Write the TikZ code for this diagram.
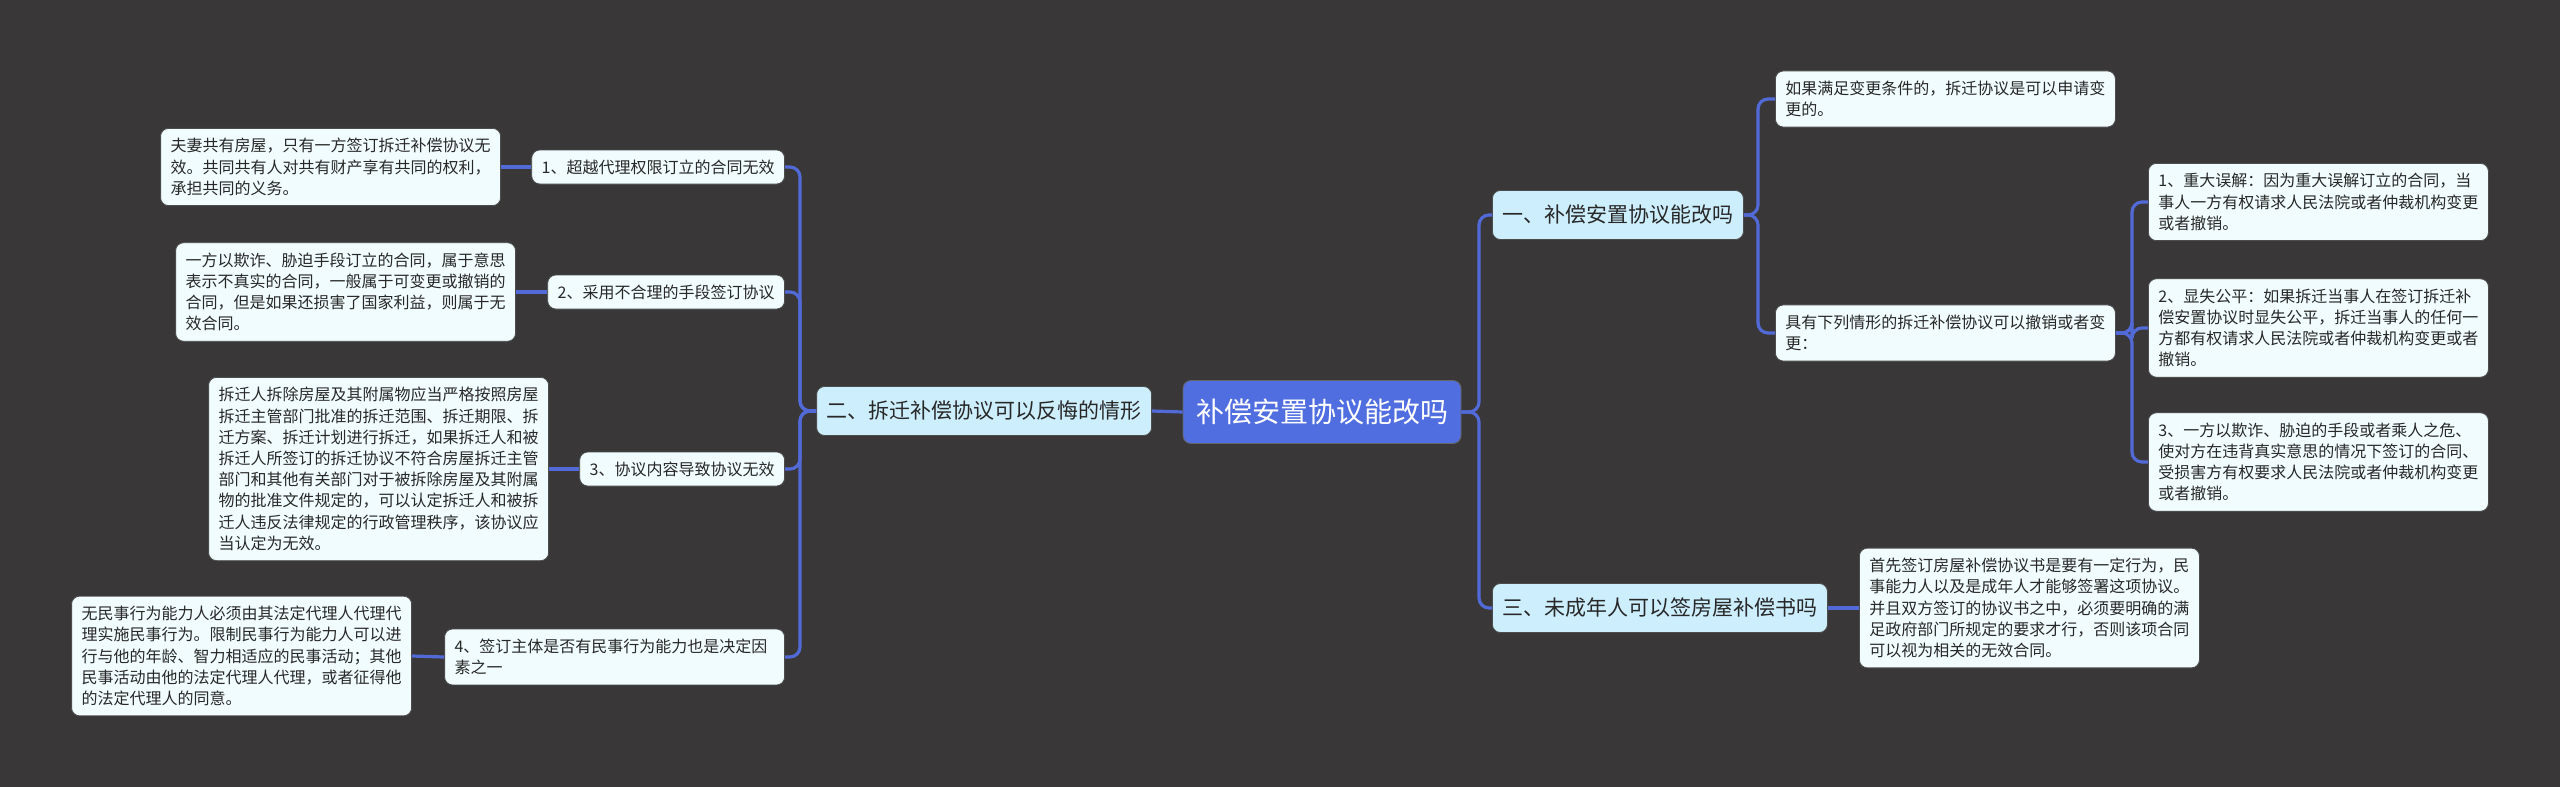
\documentclass[tikz,border=0pt]{standalone}
\usepackage{fontspec}
\setmainfont{Noto Sans CJK SC}
\usepackage{tikz}
\usetikzlibrary{calc,positioning}
\usepackage{xcolor}
\definecolor{bgdark}{RGB}{57,55,56}
\definecolor{rootblue}{RGB}{80,110,224}
\definecolor{linkblue}{RGB}{82,106,216}
\definecolor{topicfill}{RGB}{205,238,252}
\definecolor{leaffill}{RGB}{240,252,253}
\definecolor{inkgray}{RGB}{40,40,40}

\begin{document}
\begin{tikzpicture}[x=0.5pt,y=-0.5pt,
	rootbox/.style={fill=rootblue,draw=black!60,line width=0.4pt,rounded corners=4pt,text=white,
		font=\fontsize{14}{16}\selectfont,inner xsep=6.5pt,minimum height=31.5pt},
	topicbox/.style={fill=topicfill,draw=black!70,line width=0.4pt,rounded corners=4pt,text=inkgray,
		font=\fontsize{10.5}{12}\selectfont,inner xsep=5pt,minimum height=24.5pt},
	subbox/.style={fill=leaffill,draw=black!70,line width=0.4pt,rounded corners=4pt,text=inkgray,
		font=\fontsize{8}{10.6}\selectfont,inner xsep=5pt,minimum height=17pt},
	leafbox/.style={subbox,text width=160pt,align=left,inner ysep=5pt},
	link/.style={draw=linkblue,line width=1.6pt,rounded corners=5pt}]
		\useasboundingbox[fill=bgdark] (0,0) rectangle (2560,787);
		% centre
		\node[rootbox] (root) at (1322,412) {补偿安置协议能改吗};
		% left side
		\node[topicbox,anchor=east] (lft) at (1152,411) {二、拆迁补偿协议可以反悔的情形};
		\coordinate (lspine) at (800,411);
		\node[subbox,anchor=east] (b1) at (785,167) {1、超越代理权限订立的合同无效};
		\node[subbox,anchor=east] (b2) at (785,292) {2、采用不合理的手段签订协议};
		\node[subbox,anchor=east] (b3) at (785,469) {3、协议内容导致协议无效};
		\node[leafbox,anchor=east] (b4) at (785,657) {4、签订主体是否有民事行为能力也是决定因\\素之一};
		\node[leafbox,anchor=east] (a1) at (501,167) {夫妻共有房屋，只有一方签订拆迁补偿协议无\\效。共同共有人对共有财产享有共同的权利，\\承担共同的义务。};
		\node[leafbox,anchor=east] (a2) at (516,292) {一方以欺诈、胁迫手段订立的合同，属于意思\\表示不真实的合同，一般属于可变更或撤销的\\合同，但是如果还损害了国家利益，则属于无\\效合同。};
		\node[leafbox,anchor=east] (a3) at (549,469) {拆迁人拆除房屋及其附属物应当严格按照房屋\\拆迁主管部门批准的拆迁范围、拆迁期限、拆\\迁方案、拆迁计划进行拆迁，如果拆迁人和被\\拆迁人所签订的拆迁协议不符合房屋拆迁主管\\部门和其他有关部门对于被拆除房屋及其附属\\物的批准文件规定的，可以认定拆迁人和被拆\\迁人违反法律规定的行政管理秩序，该协议应\\当认定为无效。};
		\node[leafbox,anchor=east] (a4) at (412,656) {无民事行为能力人必须由其法定代理人代理代\\理实施民事行为。限制民事行为能力人可以进\\行与他的年龄、智力相适应的民事活动；其他\\民事活动由他的法定代理人代理，或者征得他\\的法定代理人的同意。};
		% right side
		\coordinate (rspine) at (1479,412);
		\node[topicbox,anchor=west] (rt1) at (1492,215) {一、补偿安置协议能改吗};
		\node[topicbox,anchor=west] (rt2) at (1492,608) {三、未成年人可以签房屋补偿书吗};
		\coordinate (cspine) at (1758,215);
		\node[leafbox,anchor=west] (c1) at (1775,99) {如果满足变更条件的，拆迁协议是可以申请变\\更的。};
		\node[leafbox,anchor=west] (c2) at (1775,333) {具有下列情形的拆迁补偿协议可以撤销或者变\\更：};
		\coordinate (dspine) at (2132,333);
		\node[leafbox,anchor=west] (d1) at (2148,202) {1、重大误解：因为重大误解订立的合同，当\\事人一方有权请求人民法院或者仲裁机构变更\\或者撤销。};
		\node[leafbox,anchor=west] (d2) at (2148,328) {2、显失公平：如果拆迁当事人在签订拆迁补\\偿安置协议时显失公平，拆迁当事人的任何一\\方都有权请求人民法院或者仲裁机构变更或者\\撤销。};
		\node[leafbox,anchor=west] (d3) at (2148,462) {3、一方以欺诈、胁迫的手段或者乘人之危、\\使对方在违背真实意思的情况下签订的合同、\\受损害方有权要求人民法院或者仲裁机构变更\\或者撤销。};
		\node[leafbox,anchor=west] (e1) at (1859,608) {首先签订房屋补偿协议书是要有一定行为，民\\事能力人以及是成年人才能够签署这项协议。\\并且双方签订的协议书之中，必须要明确的满\\足政府部门所规定的要求才行，否则该项合同\\可以视为相关的无效合同。};
		% connectors
		\draw[link] (root.west) -- (lft.east);
		\foreach \n in {b1,b2,b3,b4}
		\draw[link] (lft.west) -- (lspine) |- (\n.east);
		\draw[link] (b1.west) -- (a1.east);
		\draw[link] (b2.west) -- (a2.east);
		\draw[link] (b3.west) -- (a3.east);
		\draw[link] (b4.west) -- (a4.east);
		\foreach \n in {rt1,rt2}
		\draw[link] (root.east) -- (rspine) |- (\n.west);
		\foreach \n in {c1,c2}
		\draw[link] (rt1.east) -- (cspine) |- (\n.west);
		\foreach \n in {d1,d2,d3}
		\draw[link] (c2.east) -- (dspine) |- (\n.west);
		\draw[link] (rt2.east) -- (e1.west);
	\end{tikzpicture}
\end{document}
